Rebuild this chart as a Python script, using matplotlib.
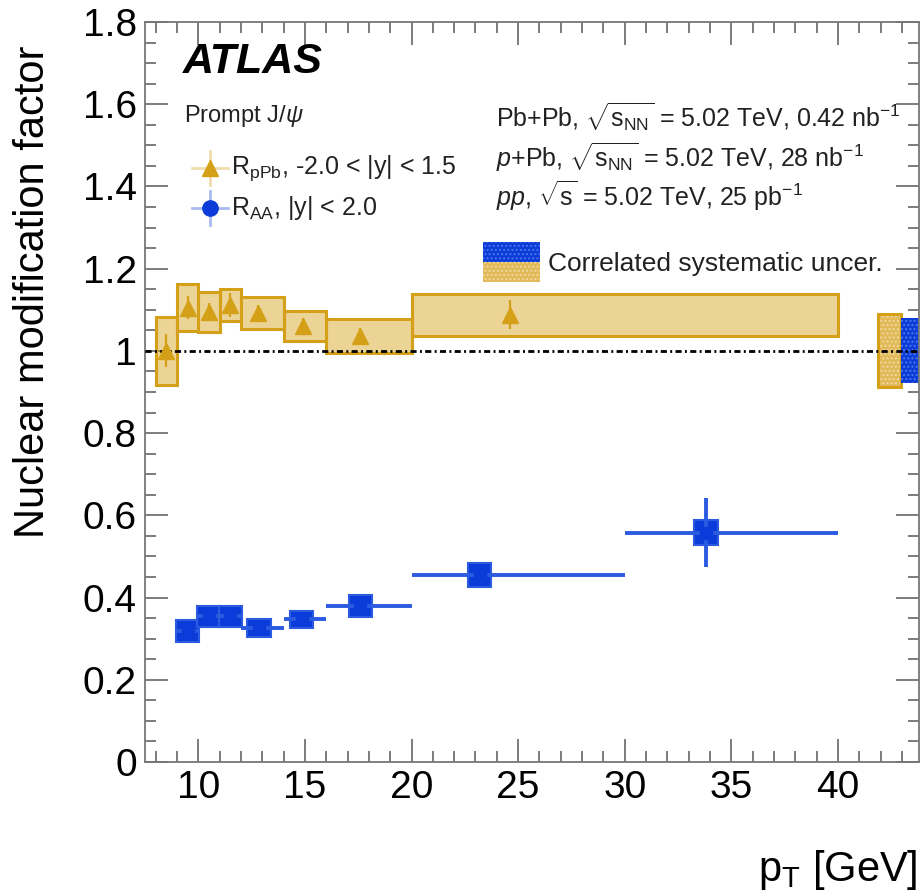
import numpy as np
import matplotlib.pyplot as plt
from matplotlib.patches import Rectangle
from matplotlib.ticker import FixedLocator, FixedFormatter, MultipleLocator

plt.rcParams['font.family'] = ['Liberation Sans', 'DejaVu Sans']
plt.rcParams['mathtext.fontset'] = 'custom'
plt.rcParams['mathtext.rm'] = 'Liberation Sans'
plt.rcParams['mathtext.it'] = 'Liberation Sans:italic'
plt.rcParams['mathtext.bf'] = 'Liberation Sans:bold'

# R_pPb, -2.0 < |y| < 1.5
ppb_lo = [8, 9, 10, 11, 12, 14, 16, 20]
ppb_hi = [9, 10, 11, 12, 14, 16, 20, 40]
ppb_pt = [8.5, 9.5, 10.5, 11.5, 12.8, 14.9, 17.6, 24.6]
ppb_val = [1.000, 1.105, 1.095, 1.112, 1.092, 1.061, 1.036, 1.088]
ppb_stat = [0.040, 0.028, 0.022, 0.030, 0.020, 0.020, 0.020, 0.035]
ppb_syst = [0.083, 0.057, 0.048, 0.039, 0.038, 0.036, 0.041, 0.051]

# R_AA, |y| < 2.0
aa_lo = [9, 10, 11, 12, 14, 16, 20, 30]
aa_hi = [10, 11, 12, 14, 16, 20, 30, 40]
aa_pt = [9.5, 10.5, 11.5, 12.85, 14.85, 17.6, 23.2, 33.8]
aa_val = [0.319, 0.354, 0.354, 0.326, 0.347, 0.380, 0.455, 0.558]
aa_stat = [0.010, 0.010, 0.010, 0.010, 0.010, 0.012, 0.015, 0.084]
aa_syst = [0.027, 0.026, 0.026, 0.022, 0.021, 0.027, 0.029, 0.030]

# correlated systematics (drawn at right edge)
ppb_corr = 0.089
aa_corr = 0.079

ytick_vals = [0, 0.2, 0.4, 0.6, 0.8, 1.0, 1.2, 1.4, 1.6, 1.8]
ytick_labels = ['0', '0.2', '0.4', '0.6', '0.8', '1', '1.2', '1.4', '1.6', '1.8']

gold = '#d4a017'
blue = '#0b3bd8'
blue_lt = '#2a5be0'

W, H = 921, 893
fig = plt.figure(figsize=(W / 100, H / 100), dpi=100)
L, R, T, B = 145, 919, 22, 762
ax = fig.add_axes([L / W, 1 - B / H, (R - L) / W, (B - T) / H])
ax.set_xlim(7.5, 43.8)
ax.set_ylim(0, 1.8)


def axc(px, py):
    # pixel position -> axes fraction
    return (px - L) / (R - L), (B - py) / (B - T)


# pPb systematic boxes
for lo, hi, v, s in zip(ppb_lo, ppb_hi, ppb_val, ppb_syst):
    ax.add_patch(Rectangle((lo, v - s), hi - lo, 2 * s, facecolor=gold, alpha=0.45,
                           edgecolor='none', zorder=2))
    ax.add_patch(Rectangle((lo, v - s), hi - lo, 2 * s, facecolor='none',
                           edgecolor=gold, lw=2.2, zorder=2))

# AA systematic boxes
for pt, v, s in zip(aa_pt, aa_val, aa_syst):
    ax.add_patch(Rectangle((pt - 0.55, v - s), 1.1, 2 * s, facecolor=blue,
                           edgecolor=blue_lt, lw=1.5, zorder=3))

# correlated boxes
ax.add_patch(Rectangle((41.9, 1 - ppb_corr), 1.05, 2 * ppb_corr, facecolor='#e2b957',
                       edgecolor='#eed9a0', hatch='....', lw=0, zorder=2))
ax.add_patch(Rectangle((41.9, 1 - ppb_corr), 1.05, 2 * ppb_corr, facecolor='none',
                       edgecolor=gold, lw=2.2, zorder=2))
ax.add_patch(Rectangle((42.95, 1 - aa_corr), 1.1, 2 * aa_corr, facecolor=blue,
                       edgecolor='#4d77e8', hatch='....', lw=0, zorder=2))

ax.axhline(1.0, color='black', lw=2, ls=(0, (2.2, 1.2, 0.7, 1.2)), zorder=4)

ax.errorbar(ppb_pt, ppb_val, yerr=ppb_stat, fmt='^', color=gold, ms=12,
            elinewidth=1.6, capsize=0, zorder=5)

aa_xerr = [np.array(aa_pt) - np.array(aa_lo), np.array(aa_hi) - np.array(aa_pt)]
ax.errorbar(aa_pt, aa_val, xerr=aa_xerr, yerr=aa_stat, fmt='none', ecolor=blue_lt,
            elinewidth=2.8, capsize=0, zorder=4)
ax.plot(aa_pt, aa_val, 's', color=blue, ms=9, zorder=5)

# axes style
ax.xaxis.set_major_locator(MultipleLocator(5))
ax.xaxis.set_minor_locator(MultipleLocator(1))
ax.yaxis.set_major_locator(FixedLocator(ytick_vals))
ax.yaxis.set_major_formatter(FixedFormatter(ytick_labels))
ax.yaxis.set_minor_locator(MultipleLocator(0.05))
ax.tick_params(which='both', direction='in', top=True, right=True, color='#666666',
               labelsize=28)
ax.tick_params(which='major', length=16.5, width=1.2, pad=6)
ax.tick_params(which='minor', length=8, width=1.2)
for sp in ax.spines.values():
    sp.set_color('#777777')
    sp.set_linewidth(1.3)

fig.text(33 / W, 1 - 292 / H, 'Nuclear modification factor', rotation=90,
         fontsize=30, ha='center', va='center')
fig.text(918 / W, 1 - 870 / H, r'p$_\mathrm{T}$ [GeV]', fontsize=30,
         ha='right', va='center')

# labels
ax.text(*axc(183, 62), 'ATLAS', transform=ax.transAxes, fontsize=31,
        fontweight='bold', fontstyle='italic', va='center', ha='left')
ax.text(*axc(184, 116), r'Prompt J/$\psi$', transform=ax.transAxes, fontsize=17,
        va='center', ha='left', color='#222222')

# legend entries
for py, col, mk, lab in [(168, gold, '^', r'R$_\mathrm{pPb}$, -2.0 < |y| < 1.5'),
                         (208, blue, 'o', r'R$_\mathrm{AA}$, |y| < 2.0')]:
    x0, y0 = axc(210, py)
    x1, _ = axc(192, py)
    x2, _ = axc(228, py)
    _, ya = axc(210, py - 17)
    _, yb = axc(210, py + 17)
    ax.plot([x1, x2], [y0, y0], color=col, lw=2, alpha=0.35,
            transform=ax.transAxes, clip_on=False)
    ax.plot([x0, x0], [ya, yb], color=col, lw=2, alpha=0.35,
            transform=ax.transAxes, clip_on=False)
    ax.plot([x0], [y0], mk, color=col, ms=11, transform=ax.transAxes, clip_on=False)
    ax.text(*axc(231, py), lab, transform=ax.transAxes, fontsize=18,
            va='center', ha='left', color='#222222')

info = [r'Pb+Pb, $\sqrt{\mathrm{s}_\mathrm{NN}}$ = 5.02 TeV, 0.42 nb$^\mathrm{-1}$',
        r'$p$+Pb, $\sqrt{\mathrm{s}_\mathrm{NN}}$ = 5.02 TeV, 28 nb$^\mathrm{-1}$',
        r'$pp$, $\sqrt{\mathrm{s}}$ = 5.02 TeV, 25 pb$^\mathrm{-1}$']
for py, s in zip([117, 157, 196], info):
    ax.text(*axc(496, py), s, transform=ax.transAxes, fontsize=18,
            va='center', ha='left', color='#222222')

# correlated systematic legend
xa, ya = axc(483, 262)
xb, yb = axc(540, 242)
_, yc = axc(540, 282)
ax.add_patch(Rectangle((xa, ya), xb - xa, yb - ya, transform=ax.transAxes,
                       facecolor=blue, edgecolor='#4d77e8', hatch='....', lw=0))
ax.add_patch(Rectangle((xa, yc), xb - xa, ya - yc, transform=ax.transAxes,
                       facecolor='#e2b957', edgecolor='#eed9a0', hatch='....', lw=0))
ax.text(*axc(548, 264), 'Correlated systematic uncer.', transform=ax.transAxes,
        fontsize=19, va='center', ha='left', color='#222222')

fig.savefig('out.png', dpi=100)
